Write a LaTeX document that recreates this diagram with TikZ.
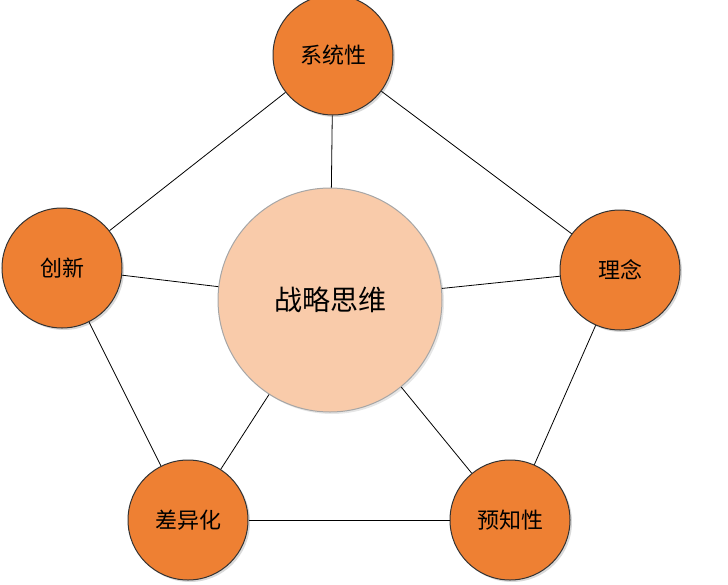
\documentclass[tikz,border=0pt]{standalone}
\usepackage{fontspec}
\setmainfont{Noto Sans CJK SC}
\usetikzlibrary{positioning,shadows}
\definecolor{outerfill}{HTML}{EE8033}
\definecolor{innerfill}{HTML}{F9CBAA}
\tikzset{
  outer/.style={circle,draw=black!80,line width=1pt,fill=outerfill,minimum size=120pt,inner sep=0pt,font=\fontsize{22}{24}\selectfont,drop shadow={opacity=0.3,shadow xshift=2pt,shadow yshift=-2pt}},
  inner/.style={circle,draw=black!35,line width=1pt,fill=innerfill,minimum size=224pt,inner sep=0pt,font=\fontsize{28}{30}\selectfont,drop shadow={opacity=0.2,shadow xshift=2pt,shadow yshift=-2pt}},
  link/.style={draw=black,line width=0.8pt}
}
\begin{document}
\begin{tikzpicture}[x=1pt,y=-1pt]
\useasboundingbox (0,0) rectangle (728,584);
%the nodes
\node [inner] (core) at (330,300) {战略思维};
\node [outer] (system) at (333,55) {系统性};
\node [outer] (idea) at (620,270) {理念};
\node [outer] (foresee) at (510,520) {预知性};
\node [outer] (differ) at (188,520) {差异化};
\node [outer] (innov) at (62,268) {创新};
%drawings of lines
\begin{scope}[on background layer/.style={}]
\end{scope}
\draw[link] (system) -- (idea);
\draw[link] (idea) -- (foresee);
\draw[link] (foresee) -- (differ);
\draw[link] (differ) -- (innov);
\draw[link] (innov) -- (system);
\draw[link] (core) -- (system);
\draw[link] (core) -- (idea);
\draw[link] (core) -- (foresee);
\draw[link] (core) -- (differ);
\draw[link] (core) -- (innov);
\end{tikzpicture}
\end{document}
